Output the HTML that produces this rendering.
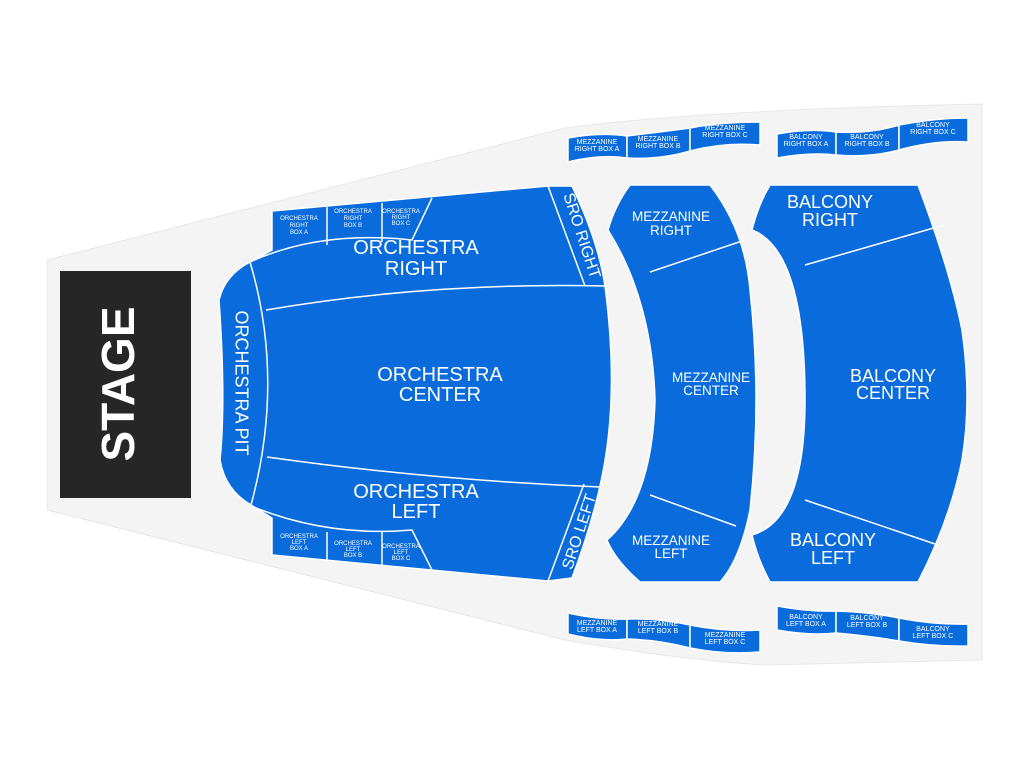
<!DOCTYPE html>
<html><head><style>
html,body{margin:0;padding:0;background:#fff;}
svg{display:block;}
text{font-family:"Liberation Sans",Arial,sans-serif;fill:#fff;text-anchor:middle;}
</style></head><body>
<svg width="1024" height="768" viewBox="0 0 1024 768" xmlns="http://www.w3.org/2000/svg">
<path d="M47,260 L565,128 Q700,110 982,104 L982,660 L765,665 Q680,660 565,640 L47,510 Z" fill="#f4f4f4" stroke="#e8e8e8"/>
<rect x="60" y="271" width="131" height="227" fill="#262626"/>
<text transform="translate(122,384) rotate(-90)" font-size="46" font-weight="bold" dominant-baseline="middle">STAGE</text>

<g fill="#0a6cdc" stroke="#fff" stroke-width="1.5">
<path d="M272,211 L548,186 L572,186 Q598,240 605,286 Q620,400 600,486 Q590,530 572,578 L548,581 L272,555 L272,518 L251,505 Q225,490 220,460 Q226,400 219,300 Q225,275 250,262 L272,250 Z"/>
<path d="M250,262 Q285,380 251,505" fill="none"/>
<path d="M266,310 Q430,282 605,286" fill="none"/>
<path d="M267,457 Q430,480 600,487" fill="none"/>
<path d="M548,186 L585,286" fill="none"/>
<path d="M548,581 L584,484" fill="none"/>
<path d="M250,262 Q320,230 412,240 L432,198" fill="none"/>
<path d="M327,207 L327,245 M382,203 L382,242" fill="none"/>
<path d="M256,508 Q330,537 412,530 L432,570" fill="none"/>
<path d="M327,532 L327,561 M382,531 L382,566" fill="none"/>
<path d="M630,185 L710,185 Q745,230 750,290 Q762,400 750,510 Q740,560 720,582 L640,582 Q615,560 607,540 Q652,500 655,400 Q652,300 608,230 Q615,205 630,185 Z"/>
<path d="M650,272 L745,240 M650,495 L736,526" fill="none"/>
<path d="M770,185 L918,185 Q950,270 962,330 Q972,400 962,460 Q950,520 918,582 L770,582 Q758,560 752,535 Q805,520 805,400 Q805,250 752,230 Q758,205 770,185 Z"/>
<path d="M805,265 L944,225 M805,500 L938,545" fill="none"/>
<path d="M568,138 Q600,132 627,136 L627,158 Q600,154 568,162 Z"/>
<path d="M627,136 Q660,132 690,128 L690,151 Q660,160 627,158 Z"/>
<path d="M690,128 Q720,122 760,122 L760,145 Q725,142 690,151 Z"/>
<path d="M777,134 Q810,128 836,132 L836,155 Q810,152 777,158 Z"/>
<path d="M836,132 Q870,134 899,125 L899,150 Q870,158 836,155 Z"/>
<path d="M899,125 Q935,118 968,118 L968,142 Q935,140 899,150 Z"/>
<path d="M568,613 Q600,620 627,619 L627,639 Q600,642 568,634 Z"/>
<path d="M627,619 Q660,618 690,625 L690,648 Q660,640 627,639 Z"/>
<path d="M690,625 Q725,632 760,630 L760,652 Q725,655 690,648 Z"/>
<path d="M777,606 Q810,612 836,611 L836,633 Q810,636 777,630 Z"/>
<path d="M836,611 Q870,612 899,618 L899,641 Q870,636 836,633 Z"/>
<path d="M899,618 Q935,625 968,624 L968,646 Q935,647 899,641 Z"/>
</g>

<g font-size="20">
<text x="416" y="254">ORCHESTRA</text><text x="416" y="275">RIGHT</text>
<text x="440" y="381">ORCHESTRA</text><text x="440" y="401">CENTER</text>
<text x="416" y="498">ORCHESTRA</text><text x="416" y="518">LEFT</text>
</g>
<g font-size="18">
<text transform="translate(240,383) rotate(90)" dominant-baseline="middle">ORCHESTRA PIT</text>
<text transform="translate(581,236) rotate(72)" font-size="16" dominant-baseline="middle">SRO RIGHT</text>
<text transform="translate(580,532) rotate(-72)" font-size="16" dominant-baseline="middle">SRO LEFT</text>
<text x="830" y="208">BALCONY</text><text x="830" y="226">RIGHT</text>
<text x="893" y="382">BALCONY</text><text x="893" y="399">CENTER</text>
<text x="833" y="546">BALCONY</text><text x="833" y="564">LEFT</text>
</g>
<g font-size="13.5">
<text x="671" y="221">MEZZANINE</text><text x="671" y="235">RIGHT</text>
<text x="711" y="382">MEZZANINE</text><text x="711" y="395">CENTER</text>
<text x="671" y="545">MEZZANINE</text><text x="671" y="558">LEFT</text>
</g>
<g font-size="6">
<text x="299" y="220">ORCHESTRA</text><text x="299" y="227">RIGHT</text><text x="299" y="234">BOX A</text>
<text x="353" y="213">ORCHESTRA</text><text x="353" y="220">RIGHT</text><text x="353" y="227">BOX B</text>
<text x="401" y="213">ORCHESTRA</text><text x="401" y="219">RIGHT</text><text x="401" y="225">BOX C</text>
<text x="299" y="538">ORCHESTRA</text><text x="299" y="544">LEFT</text><text x="299" y="550">BOX A</text>
<text x="353" y="545">ORCHESTRA</text><text x="353" y="551">LEFT</text><text x="353" y="557">BOX B</text>
<text x="401" y="548">ORCHESTRA</text><text x="401" y="554">LEFT</text><text x="401" y="560">BOX C</text>
</g>
<g font-size="7">
<text x="597" y="144">MEZZANINE</text><text x="597" y="151">RIGHT BOX A</text>
<text x="658" y="141">MEZZANINE</text><text x="658" y="148">RIGHT BOX B</text>
<text x="725" y="130">MEZZANINE</text><text x="725" y="137">RIGHT BOX C</text>
<text x="806" y="139">BALCONY</text><text x="806" y="146">RIGHT BOX A</text>
<text x="867" y="139">BALCONY</text><text x="867" y="146">RIGHT BOX B</text>
<text x="933" y="127">BALCONY</text><text x="933" y="134">RIGHT BOX C</text>
<text x="597" y="625">MEZZANINE</text><text x="597" y="632">LEFT BOX A</text>
<text x="658" y="626">MEZZANINE</text><text x="658" y="633">LEFT BOX B</text>
<text x="725" y="637">MEZZANINE</text><text x="725" y="644">LEFT BOX C</text>
<text x="806" y="619">BALCONY</text><text x="806" y="626">LEFT BOX A</text>
<text x="867" y="620">BALCONY</text><text x="867" y="627">LEFT BOX B</text>
<text x="933" y="631">BALCONY</text><text x="933" y="638">LEFT BOX C</text>
</g>
</svg>
</body></html>
